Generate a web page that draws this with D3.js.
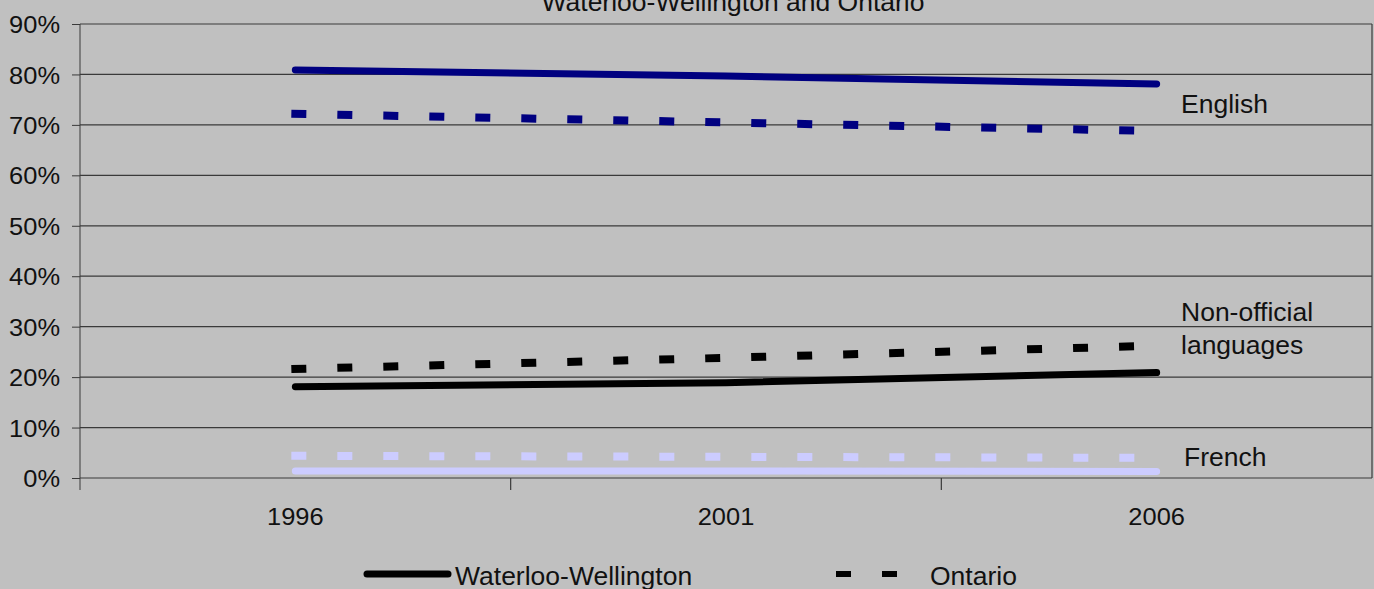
<!DOCTYPE html>
<html><head><meta charset="utf-8">
<script src="https://cdn.jsdelivr.net/npm/d3@7/dist/d3.min.js"></script>
<style>body{margin:0;background:#c0c0c0;}svg{display:block;font-family:"Liberation Sans",Arial,sans-serif;}</style>
</head><body>
<svg id="c" width="1374" height="589"></svg>
<script>
const years = ["1996", "2001", "2006"];
const yTicks = [0, 0.1, 0.2, 0.3, 0.4, 0.5, 0.6, 0.7, 0.8, 0.9];
const englishWW = [0.809, 0.797, 0.781];
const englishON = [0.722, 0.705, 0.688];
const nonOfficialWW = [0.181, 0.189, 0.209];
const nonOfficialON = [0.216, 0.238, 0.262];
const frenchWW = [0.014, 0.014, 0.013];
const frenchON = [0.044, 0.042, 0.040];
const title = "Waterloo-Wellington and Ontario";
const legendLabels = ["Waterloo-Wellington", "Ontario"];

const series = [
  {v: englishWW, color: "#000080", dash: false},
  {v: englishON, color: "#000080", dash: true},
  {v: nonOfficialWW, color: "#000000", dash: false},
  {v: nonOfficialON, color: "#000000", dash: true},
  {v: frenchWW, color: "#ccccff", dash: false},
  {v: frenchON, color: "#ccccff", dash: true}
];
const endLabels = [
  {lines: ["English"], val: 0.741, x: 1181},
  {lines: ["Non-official", "languages"], val: 0.297, x: 1181},
  {lines: ["French"], val: 0.041, x: 1184}
];

const svg = d3.select("#c");
const L = 80, R = 1372, T = 24, B = 478;
const x = d3.scaleBand().domain(years).range([L, R]).padding(0);
const y = d3.scaleLinear().domain([0, 0.9]).range([B, T]);
const stretch = (sel) => sel.attr("textLength", function(){ return this.getComputedTextLength() * 1.06; }).attr("lengthAdjust", "spacingAndGlyphs");

// gridlines
svg.append("g").selectAll("line").data(yTicks).join("line")
  .attr("x1", L).attr("x2", R).attr("y1", d => y(d)).attr("y2", d => y(d))
  .attr("stroke", "#3a3a3a").attr("stroke-width", 1.2);
svg.append("line").attr("x1", R).attr("x2", R).attr("y1", T).attr("y2", B).attr("stroke", "#3a3a3a").attr("stroke-width", 1.2);

// y axis
const ya = svg.append("g").attr("transform", `translate(${L},0)`)
  .call(d3.axisLeft(y).tickValues(yTicks).tickFormat(d3.format(".0%")).tickSize(8).tickSizeOuter(0));
ya.select(".domain").attr("stroke", "#3a3a3a").attr("d", `M0,${T}V${B + 12}`);
ya.selectAll(".tick line").attr("stroke", "#3a3a3a");
ya.selectAll(".tick text").attr("font-size", 24).attr("fill", "#111").attr("font-family", "Liberation Sans, Arial, sans-serif").attr("x", -20).attr("dy", "0.36em").call(stretch);

// x axis
const xa = svg.append("g").attr("transform", `translate(0,${B})`)
  .call(d3.axisBottom(x).tickSize(0).tickSizeOuter(0));
xa.select(".domain").remove();
xa.selectAll(".tick text").attr("font-size", 24).attr("fill", "#111").attr("font-family", "Liberation Sans, Arial, sans-serif").attr("y", 38).attr("dy", "0.36em").call(stretch);
svg.append("g").selectAll("line").data(years.slice(1)).join("line")
  .attr("x1", d => x(d)).attr("x2", d => x(d)).attr("y1", B).attr("y2", B + 12)
  .attr("stroke", "#3a3a3a").attr("stroke-width", 1.2);

// lines
const line = d3.line().x((d, i) => x(years[i]) + x.bandwidth() / 2).y(d => y(d));
series.forEach(s => {
  const p = svg.append("path").datum(s.v).attr("d", line).attr("fill", "none").attr("stroke", s.color);
  if (s.dash) p.attr("stroke-width", 8).attr("stroke-dasharray", "15,31").attr("stroke-linecap", "butt").attr("transform", "translate(-4,0)");
  else p.attr("stroke-width", 7).attr("stroke-linecap", "round");
});

// end labels
endLabels.forEach(l => {
  l.lines.forEach((s, i) => {
    const dy = l.lines.length > 1 ? (i === 0 ? -16 : 17) : 0;
    svg.append("text").attr("x", l.x).attr("y", y(l.val) + dy).attr("dy", "0.36em").attr("font-size", 25).attr("fill", "#111").text(s).call(stretch);
  });
});

// title
svg.append("text").attr("x", 733).attr("y", 11).attr("text-anchor", "middle").attr("font-size", 25).attr("fill", "#111").text(title).call(stretch);

// legend
svg.append("line").attr("x1", 367).attr("x2", 448).attr("y1", 574).attr("y2", 574).attr("stroke", "#000").attr("stroke-width", 7).attr("stroke-linecap", "round");
svg.append("text").attr("x", 455).attr("y", 585).attr("font-size", 25).attr("fill", "#111").text(legendLabels[0]).call(stretch);
svg.append("line").attr("x1", 836).attr("x2", 900).attr("y1", 574).attr("y2", 574).attr("stroke", "#000").attr("stroke-width", 6).attr("stroke-dasharray", "15,31");
svg.append("text").attr("x", 930).attr("y", 585).attr("font-size", 25).attr("fill", "#111").text(legendLabels[1]).call(stretch);
</script>
</body></html>
